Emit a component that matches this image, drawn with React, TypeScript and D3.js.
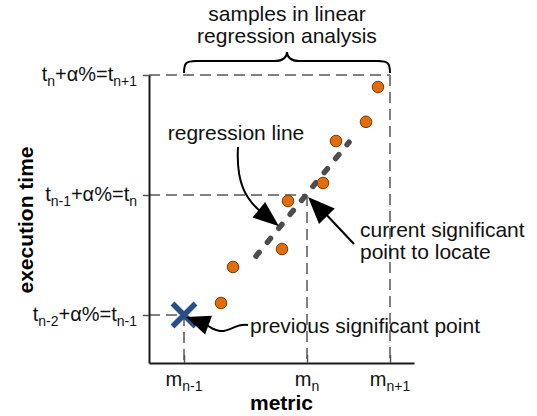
import React, { useEffect, useRef } from "react";
import * as d3 from "d3";

// axis positions (metric units / execution time levels)
const xDomain = [0, 265];
const yDomain = [0.6, 3];
const xTickValues = [35, 158, 241];
const xTickBase = ["m", "m", "m"];
const xTickSubs = ["n-1", "n", "n+1"];
const yTickValues = [1, 2, 3];
const yTickParts = [
  ["t", "n-2", "+α%=t", "n-1"],
  ["t", "n-1", "+α%=t", "n"],
  ["t", "n", "+α%=t", "n+1"],
];

// samples used in the regression
const sampleX = [72, 84, 133, 139, 174, 187, 217, 229];
const sampleY = [1.1, 1.4, 1.55, 1.95, 2.1, 2.45, 2.61, 2.9];

// regression line end points
const regX = [107, 200];
const regY = [1.49, 2.44];

// previous significant point
const prevX = 35;
const prevY = 1;

const FONT = "'Liberation Sans', Arial, sans-serif";

const App = () => {
  const svgRef = useRef<SVGSVGElement>(null);

  useEffect(() => {
    document.body.style.margin = "0";
    const svg = d3.select(svgRef.current);
    svg.selectAll("*").remove();

    const width = 537,
      height = 416;
    svg.attr("width", width).attr("height", height).style("display", "block");

    const x = d3.scaleLinear().domain(xDomain).range([149, 414]);
    const y = d3.scaleLinear().domain(yDomain).range([363, 75]);

    const arrowHead = (tx: number, ty: number, dx: number, dy: number, len = 24, half = 10) => {
      const l = Math.hypot(dx, dy);
      const ux = dx / l,
        uy = dy / l;
      const bx = tx - ux * len,
        by = ty - uy * len;
      const px = -uy * half,
        py = ux * half;
      svg
        .append("path")
        .attr("d", `M${tx},${ty}L${bx + px},${by + py}L${bx - px},${by - py}Z`)
        .attr("fill", "#000");
    };

    // dashed guide lines
    const guides = svg.append("g");
    xTickValues.forEach((xv, i) => {
      const yv = yTickValues[i];
      guides
        .append("line")
        .attr("x1", x(xDomain[0]))
        .attr("x2", x(xv))
        .attr("y1", y(yv))
        .attr("y2", y(yv));
      guides
        .append("line")
        .attr("x1", x(xv))
        .attr("x2", x(xv))
        .attr("y1", y(yv))
        .attr("y2", y(yDomain[0]));
    });
    guides
      .selectAll("line")
      .attr("stroke", "#808080")
      .attr("stroke-width", 2)
      .attr("stroke-dasharray", "11,6");

    // axes
    const xAxis = svg
      .append("g")
      .attr("transform", `translate(0,${y(yDomain[0])})`)
      .call(d3.axisBottom(x).tickValues(xTickValues).tickSize(-8).tickSizeOuter(0).tickFormat(() => ""));
    const yAxis = svg
      .append("g")
      .attr("transform", `translate(${x(xDomain[0])},0)`)
      .call(d3.axisLeft(y).tickValues(yTickValues).tickSize(6).tickSizeOuter(0).tickFormat(() => ""));
    [xAxis, yAxis].forEach((a) => {
      a.select(".domain").attr("stroke", "#1a1a1a").attr("stroke-width", 2);
      a.selectAll(".tick line").attr("stroke", "#555").attr("stroke-width", 1.5);
    });

    // x tick labels
    xTickValues.forEach((xv, i) => {
      const t = svg
        .append("text")
        .attr("x", x(xv))
        .attr("y", 386)
        .attr("text-anchor", "middle")
        .attr("font-family", FONT)
        .attr("font-size", 20)
        .attr("fill", "#111");
      t.append("tspan").text(xTickBase[i]);
      t.append("tspan").attr("dy", 5).attr("font-size", 14).text(xTickSubs[i]);
    });

    // y tick labels
    yTickValues.forEach((yv, i) => {
      const p = yTickParts[i];
      const t = svg
        .append("text")
        .attr("x", 137)
        .attr("y", y(yv) + 6)
        .attr("text-anchor", "end")
        .attr("font-family", FONT)
        .attr("font-size", 20)
        .attr("fill", "#111");
      t.append("tspan").text(p[0]);
      t.append("tspan").attr("dy", 5).attr("font-size", 14).text(p[1]);
      t.append("tspan").attr("dy", -5).text(p[2]);
      t.append("tspan").attr("dy", 5).attr("font-size", 14).text(p[3]);
    });

    // axis titles
    svg
      .append("text")
      .attr("x", (x.range()[0] + x.range()[1]) / 2)
      .attr("y", 410)
      .attr("text-anchor", "middle")
      .attr("font-family", FONT)
      .attr("font-size", 21)
      .attr("font-weight", "bold")
      .text("metric");
    svg
      .append("text")
      .attr("transform", `translate(33,220) rotate(-90)`)
      .attr("text-anchor", "middle")
      .attr("font-family", FONT)
      .attr("font-size", 21)
      .attr("font-weight", "bold")
      .text("execution time");

    // regression line
    svg
      .append("line")
      .attr("x1", x(regX[0]))
      .attr("y1", y(regY[0]))
      .attr("x2", x(regX[1]))
      .attr("y2", y(regY[1]))
      .attr("stroke", "#4d4d4d")
      .attr("stroke-width", 5.5)
      .attr("stroke-linecap", "round")
      .attr("stroke-dasharray", "5,13");

    // samples
    svg
      .selectAll(".dot")
      .data(sampleX.map((v, i) => [v, sampleY[i]]))
      .enter()
      .append("circle")
      .attr("class", "dot")
      .attr("cx", (d) => x(d[0]))
      .attr("cy", (d) => y(d[1]))
      .attr("r", 5.8)
      .attr("fill", "#e36c0a")
      .attr("stroke", "#7a3a05")
      .attr("stroke-width", 1);

    // previous significant point cross
    const px = x(prevX),
      py = y(prevY);
    const s = 11.5;
    svg
      .append("path")
      .attr("d", `M${px - s},${py - s}L${px + s},${py + s}M${px + s},${py - s}L${px - s},${py + s}`)
      .attr("stroke", "#2a4f85")
      .attr("stroke-width", 5.5);

    // brace over samples
    const bx0 = x(xTickValues[0]),
      bx1 = x(xTickValues[2]),
      bxm = (bx0 + bx1) / 2,
      by = y(yTickValues[2]) - 2;
    svg
      .append("path")
      .attr(
        "d",
        `M${bx0},${by} C${bx0},${by - 10} ${bx0 + 2},${by - 12} ${bx0 + 12},${by - 12}` +
          ` L${bxm - 12},${by - 12} C${bxm - 4},${by - 12} ${bxm},${by - 16} ${bxm},${by - 21}` +
          ` C${bxm},${by - 16} ${bxm + 4},${by - 12} ${bxm + 12},${by - 12}` +
          ` L${bx1 - 12},${by - 12} C${bx1 - 2},${by - 12} ${bx1},${by - 10} ${bx1},${by}`
      )
      .attr("fill", "none")
      .attr("stroke", "#000")
      .attr("stroke-width", 2);

    const textAt = (tx: number, ty: number, str: string, anchor = "start") =>
      svg
        .append("text")
        .attr("x", tx)
        .attr("y", ty)
        .attr("text-anchor", anchor)
        .attr("font-family", FONT)
        .attr("font-size", 21)
        .attr("fill", "#111")
        .text(str);

    textAt(bxm, 21, "samples in linear", "middle");
    textAt(bxm, 43, "regression analysis", "middle");

    // regression line annotation
    textAt(236, 140, "regression line", "middle");
    const rTipX = x(regX[0]) + 23,
      rTipY = y(regY[0]) - 30;
    svg
      .append("path")
      .attr("d", `M238,147 C236,182 245,200 ${rTipX - 14},${rTipY - 11}`)
      .attr("fill", "none")
      .attr("stroke", "#000")
      .attr("stroke-width", 2);
    arrowHead(rTipX, rTipY, 16, 13, 26, 10);

    // current significant point annotation
    const cx = x(xTickValues[1]),
      cy = y(yTickValues[1]);
    svg
      .append("line")
      .attr("x1", 354)
      .attr("y1", 244)
      .attr("x2", cx + 14)
      .attr("y2", cy + 14)
      .attr("stroke", "#000")
      .attr("stroke-width", 2);
    arrowHead(cx + 1, cy + 2, -47, -48, 27, 11);
    textAt(360, 237, "current significant");
    textAt(360, 259, "point to locate");

    // previous significant point annotation
    svg
      .append("path")
      .attr("d", `M248,325 C236,323 230,332 220,331 C214,330 211,328 ${px + 20},${py + 8}`)
      .attr("fill", "none")
      .attr("stroke", "#000")
      .attr("stroke-width", 2);
    arrowHead(px + 2, py + 2, -22, -8, 24, 10);
    textAt(250, 333, "previous significant point");
  }, []);

  return <svg ref={svgRef}></svg>;
};

export default App;
